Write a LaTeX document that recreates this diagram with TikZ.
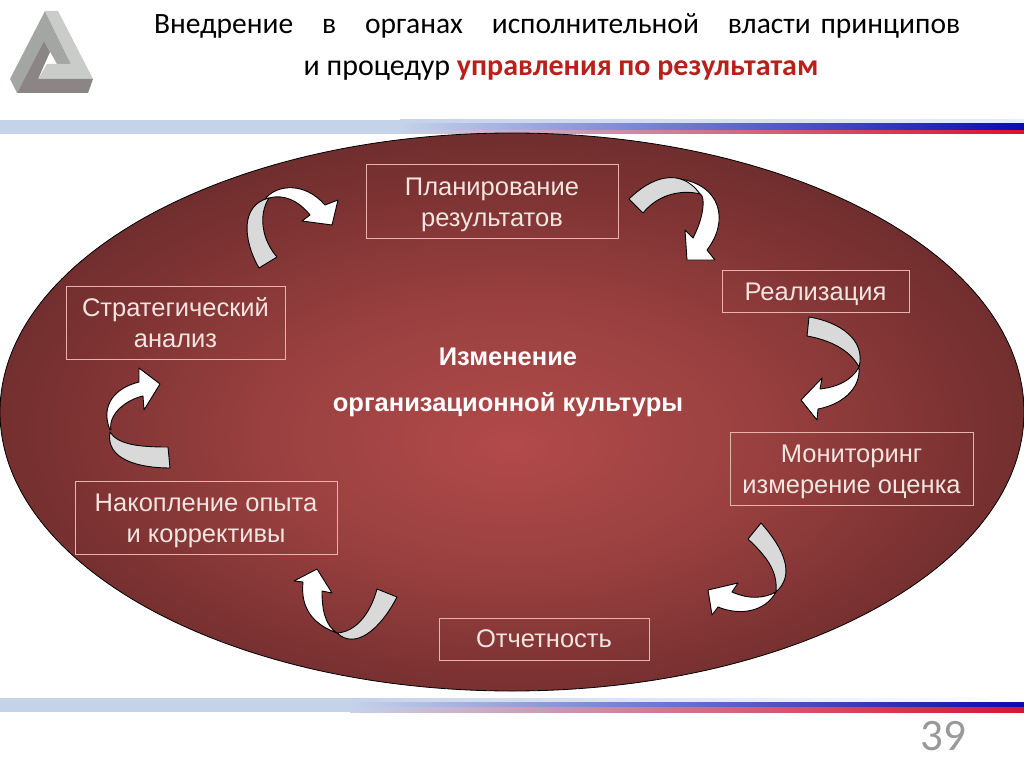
\documentclass[tikz,border=0pt]{standalone}
\usepackage{fontspec}
\setmainfont{Liberation Sans}
\newfontfamily\titlefont{Carlito}
\definecolor{boxline}{HTML}{E6B4AC}
\definecolor{boxtext}{HTML}{F2E4DE}
\definecolor{foldgrey}{HTML}{D9D9D9}
\definecolor{titlered}{HTML}{B8201C}
\definecolor{stripelight}{HTML}{C4D2EA}
\definecolor{stripeblue}{HTML}{0A0AB0}
\definecolor{stripemidblue}{HTML}{5A64D0}
\definecolor{stripered}{HTML}{E0102A}
\definecolor{stripemidred}{HTML}{DC7080}
\definecolor{ovalcentre}{HTML}{B24A4A}
\definecolor{ovalinner}{HTML}{9A4040}
\definecolor{ovalmid}{HTML}{7C3232}
\definecolor{ovalouter}{HTML}{602828}
\definecolor{ovaledge}{HTML}{4A2020}
\definecolor{logomid}{HTML}{A3A6A2}
\definecolor{logolight}{HTML}{C9CCC8}
\definecolor{logodark}{HTML}{8B8685}
\pgfdeclareradialshading{ovalshade}{\pgfpoint{0bp}{-3bp}}{color(0bp)=(ovalcentre);color(12bp)=(ovalinner);color(22bp)=(ovalmid);color(32bp)=(ovalouter);color(38bp)=(ovaledge);color(50bp)=(ovaledge)}
\newcommand{\boxstrut}{\rule{0pt}{25pt}}
\tikzset{
    stepbox/.style={draw=boxline, line width=1pt, rectangle, text=boxtext, align=center, inner sep=0pt,
        font=\fontsize{25.5}{31}\selectfont},
    heading/.style={inner sep=0pt, font=\titlefont\fontsize{29.5}{34}\selectfont},
    middle/.style={inner sep=0pt, text=white, font=\bfseries\fontsize{25.5}{30}\selectfont},
    whitepart/.style={draw=black, line width=0.9pt, fill=white, line join=round},
    greypart/.style={draw=black, line width=0.9pt, fill=foldgrey, line join=round}
}
\begin{document}
\begin{tikzpicture}[x=1pt,y=-1pt]
        \useasboundingbox[fill=white] (0,0) rectangle (1024,767);

        % logo
        \fill[logomid] (45,11) -- (71,64) -- (57,64) -- (44,41) -- (17,93) -- (10,79) -- cycle;
        \fill[logolight] (45,11) -- (58,11) -- (93,79) -- (38,79) -- (47,64) -- (71,64) -- cycle;
        \fill[logodark] (44,41) -- (50,52) -- (38,79) -- (93,79) -- (88,93) -- (17,93) -- cycle;

        % title
        \node[heading, text width=806pt] (titleone) at (557,26)
        {Внедрение\hfill в\hfill органах\hfill исполнительной\hfill власти принципов};
        \node[heading, font=\titlefont\fontsize{30}{34}\selectfont] (titletwo) at (561,71)
        {и процедур \textcolor{titlered}{\bfseries управления по результатам}};

        % stripes
        \fill[stripelight] (0,120) rectangle (400,134);
        \path[left color=stripelight, right color=stripelight!40!white] (400,120) rectangle (1024,124);
        \path[left color=stripelight, middle color=stripemidblue, right color=stripeblue] (400,124) rectangle (1024,131);
        \path[left color=stripelight, middle color=stripemidred, right color=stripered] (400,131) rectangle (1024,134);
        \fill[stripelight] (0,698) rectangle (350,712);
        \path[left color=stripelight, right color=white] (350,698) rectangle (1024,702);
        \path[left color=stripelight, middle color=stripemidblue!60!stripelight, right color=stripeblue] (350,702) rectangle (1024,707);
        \path[left color=stripelight, middle color=stripemidred!70!stripelight, right color=stripered] (350,707) rectangle (1024,712);

        % oval
        \path[draw=black, line width=0.8pt, shading=ovalshade] (512,412) ellipse (512 and 279);

        \node[stepbox, minimum width=252pt, minimum height=73pt] (plan) at (492,201.5) {\boxstrut Планирование\\результатов};
        \node[stepbox, minimum width=187pt, minimum height=42pt] (real) at (815.5,291) {\boxstrut Реализация};
        \node[stepbox, minimum width=243pt, minimum height=73pt] (monitor) at (851.5,468.5) {\boxstrut Мониторинг\\измерение оценка};
        \node[stepbox, minimum width=210pt, minimum height=42pt] (report) at (544,639) {Отчетность};
        \node[stepbox, minimum width=262pt, minimum height=73pt] (exper) at (206,517.5) {\boxstrut Накопление опыта\\и коррективы};
        \node[stepbox, minimum width=219pt, minimum height=73pt] (strat) at (175.5,322.5) {Стратегический\\анализ};

        \node[middle] (changeone) at (508,357) {Изменение};
        \node[middle] (changetwo) at (508,405) {организационной культуры};

        % arrows
        \path[whitepart] (265,199) .. controls (277,184) and (305,182) .. (325,205) -- (338,200) -- (332,225) -- (302,221) -- (310,215) .. controls (298,200) and (283,194) .. (269,198) -- cycle;
        \path[greypart] (259,268) .. controls (243,240) and (240,205) .. (269,198) .. controls (258,215) and (262,240) .. (277,257) -- cycle;

        \path[whitepart] (680,179) .. controls (720,185) and (730,220) .. (707,250) -- (715,260) -- (687,260) -- (685,230) -- (693,238) .. controls (705,215) and (705,195) .. (700,194) -- cycle;
        \path[greypart] (629,199) .. controls (650,178) and (680,166) .. (700,194) .. controls (685,190) and (660,192) .. (643,213) -- cycle;

        \path[whitepart] (859,367) .. controls (861,390) and (840,405) .. (818,409) -- (817,420) -- (801,400) -- (822,378) -- (820,389) .. controls (838,387) and (852,380) .. (859,367) -- cycle;
        \path[greypart] (809,317) .. controls (840,322) and (866,340) .. (859,367) .. controls (850,350) and (830,340) .. (807,336) -- cycle;

        \path[whitepart] (776,592) .. controls (765,612) and (740,616) .. (718,607) -- (712,615) -- (708,590) -- (738,583) -- (732,592) .. controls (750,600) and (765,598) .. (776,592) -- cycle;
        \path[greypart] (761,523) .. controls (785,550) and (795,575) .. (776,592) .. controls (778,570) and (765,555) .. (748,539) -- cycle;

        \path[whitepart] (337,633) .. controls (315,625) and (300,610) .. (303,582) -- (294,581) -- (317,569) -- (332,593) -- (322,591) .. controls (322,610) and (325,625) .. (337,633) -- cycle;
        \path[greypart] (397,597) .. controls (380,630) and (355,650) .. (337,633) .. controls (355,632) and (370,615) .. (377,589) -- cycle;

        \path[whitepart] (110,430) .. controls (100,405) and (115,388) .. (139,382) -- (139,368) -- (160,384) -- (144,410) -- (143,396) .. controls (125,400) and (108,415) .. (111,430) -- cycle;
        \path[greypart] (110,432) .. controls (118,445) and (140,447) .. (168,447) -- (170,468) .. controls (140,468) and (105,460) .. (110,432) -- cycle;

        \node[inner sep=0pt, text=gray!80!white, font=\titlefont\fontsize{45}{45}\selectfont] (pagenum) at (943,736) {39};
\end{tikzpicture}
\end{document}
